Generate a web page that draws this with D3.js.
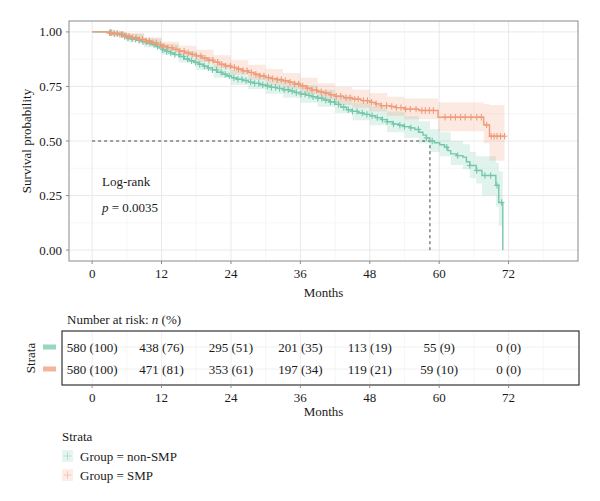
<!DOCTYPE html>
<html><head><meta charset="utf-8">
<script src="https://cdn.jsdelivr.net/npm/d3@7"></script>
<style>
body{margin:0;background:#fff}
text{font-family:"Liberation Serif","Times New Roman",serif;fill:#1a1a1a;font-size:13px}
</style>
</head><body><svg id="c" width="600" height="501"></svg>
<script>
// ---------------- data ----------------
const groups = ["non-SMP", "SMP"];
const groupColors = ["#74c8aa", "#f29a78"];

const tealTime = [0,2.8,3.6,4.5,5.3,5.9,6.8,7.7,8.6,9.5,10.3,11.0,11.6,12.2,12.9,13.6,14.3,15.1,15.9,16.8,17.6,18.4,19.2,20.0,20.8,21.6,22.5,23.3,24.1,25.0,26.0,27.0,28.0,29.0,30.0,31.0,32.0,33.0,34.0,35.0,36.0,37.0,38.0,39.0,40.0,41.0,42.0,43.0,44.0,45.0,46.0,47.0,48.0,49.0,50.0,51.0,52.0,53.0,54.0,55.0,55.8,56.5,57.2,57.8,58.4,59.2,60.1,60.9,61.5,62.0,63.0,64.1,64.7,65.3,66.4,67.4,69.8,70.3,71.0];
const tealSurv = [1.000,0.997,0.993,0.988,0.980,0.973,0.967,0.961,0.955,0.949,0.942,0.933,0.926,0.918,0.910,0.903,0.896,0.887,0.876,0.868,0.860,0.852,0.843,0.835,0.826,0.815,0.806,0.798,0.790,0.783,0.777,0.770,0.764,0.758,0.752,0.746,0.741,0.735,0.729,0.722,0.715,0.709,0.703,0.696,0.688,0.679,0.668,0.655,0.643,0.636,0.628,0.622,0.616,0.607,0.598,0.588,0.578,0.572,0.566,0.560,0.553,0.540,0.527,0.514,0.500,0.492,0.483,0.472,0.456,0.441,0.433,0.426,0.405,0.388,0.365,0.342,0.297,0.218,0.000];
const tealCensor = [3.2,3.8,4.3,5.1,5.6,6.2,6.9,7.5,8.1,8.8,9.4,10.0,10.7,11.3,12.2,12.9,13.6,14.3,15.0,15.8,16.5,17.2,17.9,18.6,19.4,20.1,20.8,21.5,22.3,23.0,23.7,24.5,25.2,25.9,26.6,27.4,28.1,28.8,29.5,30.3,31.0,31.7,32.4,33.2,33.9,34.6,35.3,36.1,36.8,37.5,38.2,39.0,39.7,40.4,41.2,41.9,42.6,43.5,44.3,45.0,45.8,46.7,47.5,48.4,49.3,50.2,51.0,52.1,53.2,54.0,55.1,56.4,57.8,58.8,61.3,63.2,65.3,66.5,67.9,68.9,70.0,70.8];
const tealBandTime = [0,3,6,9,12,15,18,21,24,27,30,33,36,39,42,45,48,51,54,56.5,58.4,60.1,62.0,64.1,65.3,66.4,67.4,69.8,70.3,71.0];
const tealLower = [1,0.985,0.955,0.930,0.895,0.860,0.825,0.790,0.757,0.737,0.717,0.698,0.675,0.657,0.628,0.595,0.572,0.540,0.515,0.490,0.450,0.430,0.390,0.370,0.330,0.305,0.250,0.200,0.110,0.110];
const tealUpper = [1,1.000,0.990,0.970,0.943,0.912,0.885,0.852,0.825,0.805,0.790,0.772,0.755,0.735,0.708,0.675,0.660,0.635,0.615,0.590,0.555,0.540,0.500,0.485,0.450,0.430,0.430,0.400,0.360,0.360];

const smpTime = [0,2.6,3.5,4.5,5.7,6.8,8.0,9.2,10.3,11.2,12.0,13.0,14.0,15.0,16.0,17.0,18.0,19.0,20.0,21.0,22.0,23.0,24.0,25.0,26.0,27.0,28.0,29.0,30.0,31.0,32.0,33.0,34.0,35.0,36.0,37.0,38.0,39.0,40.0,41.0,42.0,43.5,45.0,46.5,48.0,49.0,50.0,51.5,52.5,54.0,56.5,59.8,67.7,68.7,71.3];
const smpSurv = [1.000,0.996,0.992,0.988,0.980,0.974,0.966,0.958,0.950,0.942,0.935,0.928,0.920,0.912,0.904,0.897,0.890,0.880,0.870,0.861,0.852,0.844,0.837,0.830,0.822,0.814,0.806,0.798,0.791,0.786,0.781,0.776,0.770,0.761,0.752,0.742,0.733,0.726,0.720,0.712,0.705,0.698,0.692,0.685,0.677,0.670,0.662,0.658,0.653,0.646,0.640,0.609,0.574,0.522,0.522];
const smpCensor = [3.0,3.4,3.9,4.4,4.8,5.3,5.9,6.4,7.0,7.6,8.2,8.7,9.3,9.9,10.5,11.1,11.8,12.4,13.1,13.8,14.5,15.2,15.9,16.6,17.3,18.0,18.8,19.5,20.2,20.9,21.7,22.4,23.1,23.9,24.6,25.3,26.1,26.8,27.5,28.3,29.0,29.7,30.5,31.2,32.0,32.7,33.4,34.2,35.0,35.7,36.4,37.2,38.0,38.8,39.6,40.4,41.3,42.2,43.0,43.9,44.6,45.4,46.0,46.9,47.6,48.3,49.1,50.0,50.9,51.8,52.6,53.4,54.2,55.0,56.0,57.0,57.6,58.3,59.0,61.0,62.0,62.8,63.7,64.5,65.5,66.5,67.3,68.2,69.0,69.5,70.0,70.6,71.3];
const smpBandTime = [0,3,6,9,12,15,18,21,24,27,30,33,36,39,42,45,48,51,54,59.8,67.7,68.7,71.3];
const smpLower = [1,0.985,0.963,0.940,0.913,0.887,0.862,0.832,0.805,0.780,0.756,0.740,0.715,0.690,0.665,0.652,0.635,0.615,0.600,0.545,0.490,0.410,0.410];
const smpUpper = [1,1.000,0.995,0.976,0.955,0.936,0.918,0.893,0.870,0.850,0.830,0.812,0.790,0.765,0.748,0.735,0.720,0.703,0.695,0.677,0.670,0.665,0.665];

const medianTime = 58.4;
const xTicks = [0,12,24,36,48,60,72];
const yTicks = [0,0.25,0.5,0.75,1];
const riskTimes = [0,12,24,36,48,60,72];
const riskNonSMP_n = [580,438,295,201,113,55,0];
const riskNonSMP_pct = [100,76,51,35,19,9,0];
const riskSMP_n = [580,471,353,197,119,59,0];
const riskSMP_pct = [100,81,61,34,21,10,0];

// ---------------- drawing ----------------
const svg = d3.select("#c");
const L = 69, R = 578, T = 21, B = 261;
const x = d3.scaleLinear().domain([-4, 84]).range([L, R]);
const y = d3.scaleLinear().domain([-0.05, 1.05]).range([B, T]);

// grid
const g = svg.append("g");
const minorX = d3.range(6, 84, 12), minorY = [0.125,0.375,0.625,0.875];
g.selectAll(".mx").data(minorX).join("line").attr("x1",d=>x(d)).attr("x2",d=>x(d)).attr("y1",T).attr("y2",B).attr("stroke","#f0f0f0").attr("stroke-width",0.6);
g.selectAll(".my").data(minorY).join("line").attr("x1",L).attr("x2",R).attr("y1",d=>y(d)).attr("y2",d=>y(d)).attr("stroke","#f0f0f0").attr("stroke-width",0.6);
g.selectAll(".gx").data(xTicks).join("line").attr("x1",d=>x(d)).attr("x2",d=>x(d)).attr("y1",T).attr("y2",B).attr("stroke","#e6e6e6").attr("stroke-width",0.9);
g.selectAll(".gy").data(yTicks).join("line").attr("x1",L).attr("x2",R).attr("y1",d=>y(d)).attr("y2",d=>y(d)).attr("stroke","#e6e6e6").attr("stroke-width",0.9);

const series = [
  {time: tealTime, surv: tealSurv, cens: tealCensor, bt: tealBandTime, lo: tealLower, hi: tealUpper, color: groupColors[0]},
  {time: smpTime, surv: smpSurv, cens: smpCensor, bt: smpBandTime, lo: smpLower, hi: smpUpper, color: groupColors[1]}
];

// bands
series.forEach(s => {
  const pts = s.bt.map((t,i)=>({t, lo:s.lo[i], hi:s.hi[i]}));
  const area = d3.area().curve(d3.curveStepAfter).x(d=>x(d.t)).y0(d=>y(d.lo)).y1(d=>y(d.hi));
  svg.append("path").attr("d", area(pts)).attr("fill", s.color).attr("fill-opacity", 0.22);
});

// median line
svg.append("path")
  .attr("d", `M${x(0)},${y(0.5)}H${x(medianTime)}V${y(0)}`)
  .attr("fill","none").attr("stroke","#444").attr("stroke-width",1).attr("stroke-dasharray","3,3");

// curves + censor marks
series.forEach(s => {
  const pts = s.time.map((t,i)=>({t, v:s.surv[i]}));
  const line = d3.line().curve(d3.curveStepAfter).x(d=>x(d.t)).y(d=>y(d.v));
  svg.append("path").attr("d", line(pts)).attr("fill","none").attr("stroke", s.color).attr("stroke-width",1.4);
  const at = t => s.surv[Math.max(0, d3.bisectRight(s.time, t) - 1)];
  const cg = svg.append("g").attr("stroke", s.color).attr("stroke-width", 1.1);
  s.cens.forEach(t => {
    const cx = x(t), cy = y(at(t));
    cg.append("line").attr("x1",cx).attr("x2",cx).attr("y1",cy-3.2).attr("y2",cy+3.2);
    cg.append("line").attr("x1",cx-2.8).attr("x2",cx+2.8).attr("y1",cy).attr("y2",cy);
  });
});

// panel border
svg.append("rect").attr("x",L).attr("y",T).attr("width",R-L).attr("height",B-T).attr("fill","none").attr("stroke","#8a8a8a").attr("stroke-width",1);

// axes ticks & labels
svg.selectAll(".xt").data(xTicks).join("line").attr("x1",d=>x(d)).attr("x2",d=>x(d)).attr("y1",B).attr("y2",B+3).attr("stroke","#8a8a8a");
svg.selectAll(".xl").data(xTicks).join("text").attr("x",d=>x(d)).attr("y",B+17).attr("text-anchor","middle").text(d=>d);
svg.selectAll(".yt").data(yTicks).join("line").attr("x1",L-3).attr("x2",L).attr("y1",d=>y(d)).attr("y2",d=>y(d)).attr("stroke","#8a8a8a");
svg.selectAll(".yl").data(yTicks).join("text").attr("x",L-7).attr("y",d=>y(d)+4.5).attr("text-anchor","end").text(d=>d3.format(".2f")(d));
svg.append("text").attr("x",(L+R)/2).attr("y",297).attr("text-anchor","middle").text("Months");
svg.append("text").attr("transform",`translate(31,${(T+B)/2}) rotate(-90)`).attr("text-anchor","middle").text("Survival probability");

// annotation
svg.append("text").attr("x",102).attr("y",186).text("Log-rank");
const pt = svg.append("text").attr("x",102).attr("y",212);
pt.append("tspan").attr("font-style","italic").text("p");
pt.append("tspan").text(" = 0.0035");

// ---------------- risk table ----------------
const tT = 331, tB = 385, tL = 62, tR = 579;
const rowY = [347, 369];
svg.selectAll(".tmx").data(minorX).join("line").attr("x1",d=>x(d)).attr("x2",d=>x(d)).attr("y1",tT).attr("y2",tB).attr("stroke","#f0f0f0").attr("stroke-width",0.6);
svg.selectAll(".tgx").data(xTicks).join("line").attr("x1",d=>x(d)).attr("x2",d=>x(d)).attr("y1",tT).attr("y2",tB).attr("stroke","#ececec").attr("stroke-width",0.8);
svg.selectAll(".tgy").data(rowY).join("line").attr("x1",tL).attr("x2",tR).attr("y1",d=>d).attr("y2",d=>d).attr("stroke","#ececec").attr("stroke-width",0.8);
svg.append("rect").attr("x",tL).attr("y",tT).attr("width",tR-tL).attr("height",tB-tT).attr("fill","none").attr("stroke","#333").attr("stroke-width",1.2);

const tt = svg.append("text").attr("x",67).attr("y",324);
tt.append("tspan").text("Number at risk: ");
tt.append("tspan").attr("font-style","italic").text("n");
tt.append("tspan").text(" (%)");

const riskRows = [[riskNonSMP_n, riskNonSMP_pct],[riskSMP_n, riskSMP_pct]];
riskRows.forEach((r,ri) => {
  svg.selectAll(null).data(riskTimes).join("text")
    .attr("x",d=>x(d)).attr("y",rowY[ri]+4.5).attr("text-anchor","middle")
    .text((d,i)=>`${r[0][i]} (${r[1][i]})`);
  svg.append("rect").attr("x",43).attr("y",rowY[ri]-2.5).attr("width",13).attr("height",5).attr("fill",groupColors[ri]).attr("opacity",0.75);
});
svg.append("text").attr("transform",`translate(35,${(tT+tB)/2}) rotate(-90)`).attr("text-anchor","middle").text("Strata");
svg.selectAll(".ttk").data(xTicks).join("line").attr("x1",d=>x(d)).attr("x2",d=>x(d)).attr("y1",tB).attr("y2",tB+3).attr("stroke","#8a8a8a");
svg.selectAll(".ttl").data(xTicks).join("text").attr("x",d=>x(d)).attr("y",402).attr("text-anchor","middle").text(d=>d);
svg.append("text").attr("x",(L+R)/2).attr("y",416).attr("text-anchor","middle").text("Months");

// ---------------- legend ----------------
svg.append("text").attr("x",62).attr("y",441).text("Strata");
groups.forEach((gname,i) => {
  const ly = 456 + i*19;
  svg.append("rect").attr("x",62).attr("y",ly-6).attr("width",11).attr("height",12).attr("fill",groupColors[i]).attr("fill-opacity",0.18);
  svg.append("line").attr("x1",67.5).attr("x2",67.5).attr("y1",ly-4).attr("y2",ly+4).attr("stroke",groupColors[i]).attr("stroke-opacity",0.45);
  svg.append("line").attr("x1",63.5).attr("x2",71.5).attr("y1",ly).attr("y2",ly).attr("stroke",groupColors[i]).attr("stroke-opacity",0.45);
  svg.append("text").attr("x",80).attr("y",ly+4.5).text("Group = " + gname);
});
</script>
</body></html>
